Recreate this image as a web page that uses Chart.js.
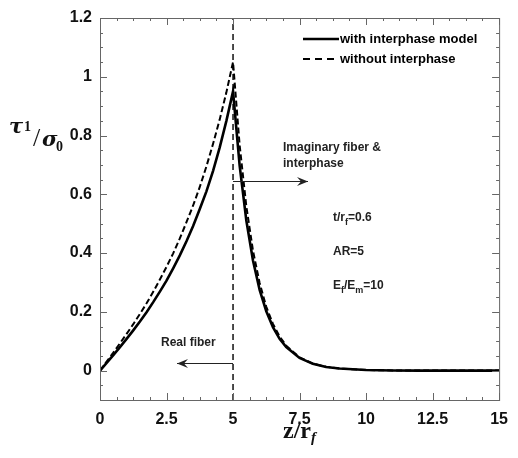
<!DOCTYPE html>
<html>
<head>
<meta charset="utf-8">
<script src="https://cdn.jsdelivr.net/npm/chart.js@4"></script>
<style>
  html, body { margin: 0; padding: 0; background: #fff; }
  #wrap { width: 518px; height: 458px; }
</style>
</head>
<body>
<div id="wrap"><canvas id="c" width="518" height="458"></canvas></div>
<script>
/* ================= DATA ================= */
const zVals = [0, 0.25, 0.5, 0.75, 1, 1.25, 1.5, 1.75, 2, 2.25, 2.5, 2.75, 3, 3.25, 3.5, 3.75, 4, 4.25, 4.5, 4.75, 5,
  5.25, 5.5, 5.75, 6, 6.25, 6.5, 6.75, 7, 7.5, 8, 8.5, 9, 10, 11, 12, 13, 14, 15];

const withInterphase = [0, 0.026, 0.053, 0.080, 0.108, 0.137, 0.167, 0.199, 0.233, 0.269, 0.306, 0.348, 0.392, 0.440, 0.492, 0.550, 0.610, 0.680, 0.760, 0.850, 0.950,
  0.697, 0.511, 0.375, 0.275, 0.202, 0.148, 0.108, 0.080, 0.043, 0.023, 0.012, 0.007, 0.002, 0.0006, 0, 0, 0, 0];

const withoutInterphase = [0, 0.031, 0.061, 0.093, 0.125, 0.158, 0.193, 0.229, 0.268, 0.310, 0.353, 0.399, 0.450, 0.505, 0.562, 0.625, 0.695, 0.772, 0.855, 0.947, 1.050,
  0.766, 0.559, 0.408, 0.298, 0.217, 0.159, 0.116, 0.085, 0.045, 0.024, 0.013, 0.007, 0.002, 0.0006, 0, 0, 0, 0];

const fiberEnd = 5;
const xTicks = [0, 2.5, 5, 7.5, 10, 12.5, 15];
const yTicks = [0, 0.2, 0.4, 0.6, 0.8, 1, 1.2];
const legendLabels = ["with interphase model", "without interphase"];

/* ================= HELPERS ================= */
const pts = (ys) => zVals.map((z, i) => ({ x: z, y: ys[i] }));
const BOLD = "bold 13px 'Liberation Sans', Arial, sans-serif";
const NOTE = "bold 12px 'Liberation Sans', Arial, sans-serif";
const SUB = "bold 9px 'Liberation Sans', Arial, sans-serif";

function arrow(ctx, x1, y, x2) {
  const dir = Math.sign(x2 - x1);
  ctx.beginPath();
  ctx.moveTo(x1, y);
  ctx.lineTo(x2, y);
  ctx.stroke();
  ctx.beginPath();
  ctx.moveTo(x2, y);
  ctx.lineTo(x2 - dir * 11, y - 4.5);
  ctx.lineTo(x2 - dir * 7, y);
  ctx.lineTo(x2 - dir * 11, y + 4.5);
  ctx.closePath();
  ctx.fill();
}

// write a run of [text, font, dy] pieces left to right
function runText(ctx, x, y, parts) {
  let cx = x;
  parts.forEach(([t, f, dy]) => {
    ctx.font = f;
    ctx.fillText(t, cx, y + (dy || 0));
    cx += ctx.measureText(t).width;
  });
}

/* ---------- frame, inward ticks, titles, legend, notes ---------- */
const decor = {
  id: "decor",
  afterDraw(chart) {
    const { ctx, chartArea: a, scales: { x, y } } = chart;
    ctx.save();

    // frame
    ctx.strokeStyle = "#666";
    ctx.lineWidth = 1;
    ctx.strokeRect(a.left + 0.5, a.top + 0.5, a.right - a.left, a.bottom - a.top);

    // x ticks (major 2.5, minor 0.625)
    ctx.beginPath();
    for (let v = 0; v <= 15.001; v += 0.625) {
      const px = Math.round(x.getPixelForValue(v)) + 0.5;
      const len = Math.abs(v / 2.5 - Math.round(v / 2.5)) < 1e-6 ? 7 : 3;
      ctx.moveTo(px, a.bottom); ctx.lineTo(px, a.bottom - len);
      ctx.moveTo(px, a.top); ctx.lineTo(px, a.top + len);
    }
    // y ticks (major 0.2, minor 0.05)
    for (let v = -0.1; v <= 1.2001; v += 0.05) {
      const py = Math.round(y.getPixelForValue(v)) + 0.5;
      const len = Math.abs(v / 0.2 - Math.round(v / 0.2)) < 1e-6 ? 7 : 3;
      ctx.moveTo(a.left, py); ctx.lineTo(a.left + len, py);
      ctx.moveTo(a.right, py); ctx.lineTo(a.right - len, py);
    }
    ctx.stroke();

    ctx.fillStyle = "#111";
    ctx.textBaseline = "alphabetic";

    // y title  tau_1 / sigma_0
    ctx.font = "bold italic 21px 'DejaVu Serif', serif";
    ctx.fillText("\u03C4", 9, 133);
    ctx.font = "bold 14px 'Liberation Serif', serif";
    ctx.fillText("1", 24, 131);
    ctx.font = "26px 'Liberation Serif', serif";
    ctx.fillText("/", 33, 146);
    ctx.font = "bold italic 21px 'DejaVu Serif', serif";
    ctx.fillText("\u03C3", 42, 146);
    ctx.font = "bold 14px 'Liberation Serif', serif";
    ctx.fillText("0", 56, 151);

    // x title  z / r_f
    runText(ctx, 283, 438, [
      ["z/r", "bold 24px 'Liberation Serif', serif", 0],
      ["f", "bold italic 15px 'Liberation Serif', serif", 4]
    ]);

    // legend
    ctx.lineWidth = 2.5;
    ctx.strokeStyle = "#000";
    ctx.beginPath(); ctx.moveTo(303, 39); ctx.lineTo(339, 39); ctx.stroke();
    ctx.lineWidth = 2;
    ctx.setLineDash([7, 5]);
    ctx.beginPath(); ctx.moveTo(303, 59); ctx.lineTo(339, 59); ctx.stroke();
    ctx.setLineDash([]);
    ctx.font = BOLD;
    ctx.fillStyle = "#000";
    ctx.textBaseline = "middle";
    ctx.fillText(legendLabels[0], 340, 39);
    ctx.fillText(legendLabels[1], 340, 59);

    // annotations
    ctx.font = NOTE;
    ctx.fillStyle = "#222";
    ctx.fillText("Imaginary fiber &", 283, 148);
    ctx.fillText("interphase", 283, 164);
    ctx.fillText("Real fiber", 161, 343);
    runText(ctx, 333, 218, [["t/r", NOTE, 0], ["f", SUB, 5], ["=0.6", NOTE, 0]]);
    ctx.font = NOTE;
    ctx.fillText("AR=5", 333, 252);
    runText(ctx, 333, 286, [["E", NOTE, 0], ["f", SUB, 5], ["/E", NOTE, 0], ["m", SUB, 5], ["=10", NOTE, 0]]);

    // arrows
    ctx.lineWidth = 1;
    ctx.strokeStyle = "#222";
    ctx.fillStyle = "#222";
    const x5 = x.getPixelForValue(fiberEnd);
    arrow(ctx, x5, 181.5, 308);
    arrow(ctx, x5, 363.5, 177);

    ctx.restore();
  }
};

/* ================= CHART ================= */
new Chart(document.getElementById("c"), {
  type: "line",
  data: {
    datasets: [
      {
        label: legendLabels[0],
        data: pts(withInterphase),
        borderColor: "#000",
        borderWidth: 2.6,
        pointRadius: 0,
        tension: 0
      },
      {
        label: legendLabels[1],
        data: pts(withoutInterphase),
        borderColor: "#000",
        borderWidth: 2,
        borderDash: [6, 3],
        pointRadius: 0,
        tension: 0
      },
      {
        label: "z = 5",
        data: [{ x: fiberEnd, y: -0.1 }, { x: fiberEnd, y: 1.2 }],
        borderColor: "#111",
        borderWidth: 1.5,
        borderDash: [6, 4],
        pointRadius: 0
      }
    ]
  },
  options: {
    responsive: false,
    animation: false,
    layout: { padding: { left: 0, right: 9, top: 18, bottom: 0 } },
    plugins: { legend: { display: false }, tooltip: { enabled: false } },
    scales: {
      x: {
        type: "linear",
        min: 0,
        max: 15,
        afterBuildTicks: (s) => { s.ticks = xTicks.map((v) => ({ value: v })); },
        afterFit: (s) => { s.height = 58; },
        grid: { display: false, drawTicks: false },
        border: { display: false },
        ticks: {
          padding: 10,
          color: "#111",
          font: { family: "'Liberation Sans', Arial, sans-serif", size: 16, weight: "bold" },
          callback: (v) => String(v)
        }
      },
      y: {
        type: "linear",
        min: -0.1,
        max: 1.2,
        afterBuildTicks: (s) => { s.ticks = yTicks.map((v) => ({ value: v })); },
        afterFit: (s) => { s.width = 100; },
        grid: { display: false, drawTicks: false },
        border: { display: false },
        ticks: {
          padding: 8,
          color: "#111",
          font: { family: "'Liberation Sans', Arial, sans-serif", size: 16, weight: "bold" },
          callback: (v) => String(Math.round(v * 10) / 10)
        }
      }
    }
  },
  plugins: [decor]
});
</script>
</body>
</html>
